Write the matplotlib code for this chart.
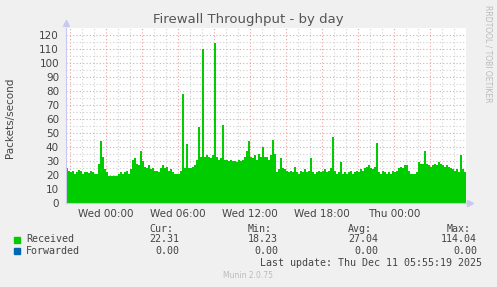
import numpy as np
import matplotlib
matplotlib.use("Agg")
import matplotlib.pyplot as plt

# Munin "by day": 10 minute steps, starting Tue 20:40 (hours relative to Wed 00:00)
received = [
    25, 23, 22, 23, 21, 22, 23.5, 23, 21, 22, 22, 21.5, 23, 22, 20.5, 21, 28, 44, 33, 24,
    22, 19, 19.5, 19, 19, 19.5, 21, 22, 21, 22, 23, 21, 24, 31, 32, 28, 27, 37, 30, 26,
    25, 27, 24, 25, 23, 23, 22.5, 25, 27, 25, 26, 23, 24, 22, 21, 20.5, 21, 23, 78, 25,
    42, 25, 25, 26, 27, 31, 54, 33, 110, 33, 34, 33, 32, 34, 114, 33, 31, 32, 56, 31,
    31, 30, 31, 30, 30, 29, 31, 30, 31, 33, 37, 44, 33, 32, 34, 31, 35, 33, 40, 33,
    33, 31, 34, 45, 35, 22, 24, 32, 25, 24, 23, 22, 23, 22, 26, 22, 21, 23, 22, 24,
    22, 23, 32, 22, 21, 22, 23, 22, 23, 24, 22, 23, 25, 47, 23, 21, 22, 29, 21, 22,
    21, 22, 23, 21, 22, 23, 22, 24, 23, 25, 26, 27, 25, 24, 26, 43, 22, 21, 23, 22,
    21, 22, 21, 23, 22, 23, 25, 26, 25, 27, 27, 23, 21, 20.5, 21, 22, 29, 28, 28, 37,
    28, 27, 26, 27, 28, 27, 29, 28, 27, 26, 27, 26, 25, 24, 23, 24, 22, 34, 24, 22.31,
]
start_hour = -40 / 12
step_hour = 10 / 60

tick_hours = [0, 6, 12, 18, 24]
tick_labels = ["Wed 00:00", "Wed 06:00", "Wed 12:00", "Wed 18:00", "Thu 00:00"]

legend_names = ["Received", "Forwarded"]
legend_colors = ["#00CC00", "#0066B3"]
cur = ["22.31", "0.00"]
vmin = ["18.23", "0.00"]
avg = ["27.04", "0.00"]
vmax = ["114.04", "0.00"]

W, H = 497, 287
fig = plt.figure(figsize=(W / 100, H / 100), dpi=100, facecolor="#F0F0F0")
ax = fig.add_axes([66 / W, 1 - 203 / H, 400 / W, 175 / H])
ax.set_facecolor("white")

edges = start_hour + np.arange(len(received) + 1) * step_hour
ax.stairs(received, edges, fill=True, color="#00CC00", linewidth=0, zorder=2)

ax.set_xlim(start_hour, start_hour + 400 / 12)
ax.set_ylim(0, 125)

ax.set_xticks(tick_hours)
ax.set_xticklabels(tick_labels)
ax.set_yticks(np.arange(0, 121, 10))

# grid: red dotted major, gray dotted minor
for h in np.arange(-3, 30, 1):
    col = "#F0A0A0" if h % 3 == 0 else "#D0D0D0"
    ax.axvline(h, color=col, lw=0.8, ls=(0, (1, 2)), zorder=1)
for v in range(5, 125, 5):
    col = "#F0A0A0" if v % 10 == 0 else "#D0D0D0"
    ax.axhline(v, color=col, lw=0.8, ls=(0, (1, 2)), zorder=1)

ax.tick_params(axis="both", which="both", length=0, labelsize=7.5, colors="#444444")
ax.tick_params(axis="y", pad=5)
ax.tick_params(axis="x", pad=4)
for s in ["top", "right"]:
    ax.spines[s].set_visible(False)
for s in ["left", "bottom"]:
    ax.spines[s].set_color("#C8C8F0")
    ax.spines[s].set_linewidth(0.8)
ax.plot([0], [1.03], marker="^", ms=4, color="#C8C8F0", transform=ax.transAxes, clip_on=False)
ax.plot([1.01], [0], marker=">", ms=4, color="#C8C8F0", transform=ax.transAxes, clip_on=False)

fig.text(248 / W, 1 - 19 / H, "Firewall Throughput - by day", ha="center", va="center",
         fontsize=9.5, color="#555555")
fig.text(10 / W, 1 - 118 / H, "Packets/second", rotation=90, ha="center", va="center",
         fontsize=7.5, color="#444444")
fig.text(488 / W, 1 - 5 / H, "RRDTOOL / TOBI OETIKER", rotation=270, ha="center", va="top",
         fontsize=5.5, color="#BBBBBB")

mono = "DejaVu Sans Mono"
fs = 7.2
tc = "#444444"
for x, lab in zip([149, 248, 348, 447], ["Cur:", "Min:", "Avg:", "Max:"]):
    fig.text(x / W, 1 - 228.5 / H, lab, family=mono, fontsize=fs, color=tc, ha="left", va="center")
for i, name in enumerate(legend_names):
    y = 239.5 + i * 11.7
    fig.patches.append(plt.Rectangle((14 / W, 1 - (y + 3) / H), 6 / W, 6 / H,
                                     transform=fig.transFigure, color=legend_colors[i]))
    fig.text(26 / W, 1 - y / H, name, family=mono, fontsize=fs, color=tc, ha="left", va="center")
    for x, vals in zip([179, 278, 378, 477], [cur, vmin, avg, vmax]):
        fig.text(x / W, 1 - y / H, vals[i], family=mono, fontsize=fs, color=tc, ha="right", va="center")
fig.text(482 / W, 1 - 263.5 / H, "Last update: Thu Dec 11 05:55:19 2025", family=mono,
         fontsize=fs, color=tc, ha="right", va="center")
fig.text(248 / W, 1 - 276 / H, "Munin 2.0.75", fontsize=5.5, color="#BBBBBB", ha="center", va="center")

fig.savefig("out.png", dpi=100, facecolor=fig.get_facecolor())
